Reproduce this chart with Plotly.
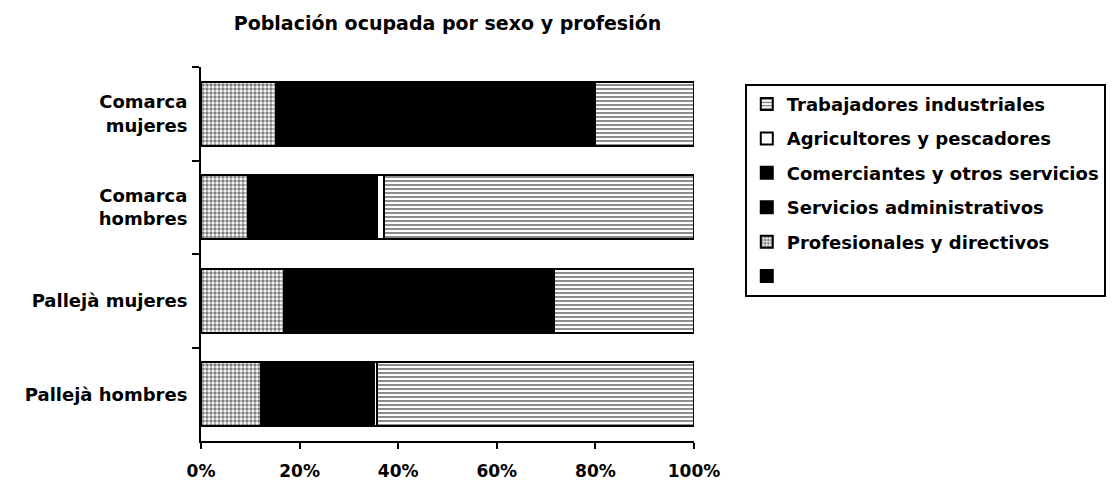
import plotly.graph_objects as go

# ---- data (percent of employed population) ----
categories = ["Comarca<br>mujeres", "Comarca<br>hombres", "Pallejà mujeres", "Pallejà hombres"]
sin_nombre = [0, 0, 0, 0]
profesionales = [15.3, 9.6, 16.9, 12.2]
servicios_adm = [28.0, 9.5, 27.0, 8.0]
comerciantes = [36.4, 16.7, 27.5, 14.8]
agricultores = [0.3, 1.3, 0.2, 0.8]
trabajadores = [20.0, 62.9, 28.4, 64.2]
x_ticks = [0, 20, 40, 60, 80, 100]
x_tick_labels = ["0%", "20%", "40%", "60%", "80%", "100%"]

FONT = "DejaVu Sans"
LINE = dict(color="black", width=2)

# (name, values, marker, legend rank)
series = [
    (" ", sin_nombre, dict(color="black", line=LINE), 6),
    ("Profesionales y directivos", profesionales,
     dict(color="white", line=LINE,
          pattern=dict(shape=".", fgcolor="black", bgcolor="white", size=4, solidity=0.6)), 5),
    ("Servicios administrativos", servicios_adm, dict(color="black", line=LINE), 4),
    ("Comerciantes y otros servicios", comerciantes, dict(color="black", line=LINE), 3),
    ("Agricultores y pescadores", agricultores, dict(color="white", line=LINE), 2),
    ("Trabajadores industriales", trabajadores,
     dict(color="white", line=LINE,
          pattern=dict(shape="-", fgcolor="black", bgcolor="white", size=4, solidity=0.45)), 1),
]

fig = go.Figure()
for name, vals, marker, rank in series:
    fig.add_trace(go.Bar(
        y=categories, x=vals, name=name, orientation="h",
        marker=marker, legendgroup=name, legendrank=rank, hoverinfo="skip",
    ))

fig.update_layout(
    width=1113, height=481,
    barmode="stack", bargap=0.32,
    paper_bgcolor="white", plot_bgcolor="white",
    margin=dict(l=201, r=419, t=67, b=40, autoexpand=False),
    font=dict(family=FONT, size=18, color="black", weight="bold"),
    title=dict(text="Población ocupada por sexo y profesión",
               x=0.5, xref="paper", y=1 - 23 / 481, yref="container",
               xanchor="center", yanchor="middle",
               font=dict(family=FONT, size=19, color="black", weight="bold")),
    showlegend=True,
    legend=dict(x=1.103, y=0.955, xanchor="left", yanchor="top",
                traceorder="grouped", tracegroupgap=8,
                bordercolor="black", borderwidth=2, bgcolor="white",
                font=dict(family=FONT, size=18, color="black", weight="bold")),
    xaxis=dict(range=[0, 100], tickvals=x_ticks, ticktext=x_tick_labels,
               showgrid=False, zeroline=False,
               showline=True, linecolor="black", linewidth=2,
               ticks="outside", ticklen=6, tickwidth=2, tickcolor="black",
               ticklabelstandoff=8,
               tickfont=dict(family=FONT, size=17, color="black", weight="bold")),
    xaxis2=dict(overlaying="x", anchor="y", range=[0, 100], tickvals=x_ticks,
                showticklabels=False, showgrid=False, zeroline=False, showline=False,
                ticks="inside", ticklen=6, tickwidth=2, tickcolor="black"),
    yaxis=dict(type="category", categoryorder="array", categoryarray=categories,
               range=[3.5, -0.5], tickson="boundaries",
               showgrid=False, zeroline=False,
               showline=True, linecolor="black", linewidth=2,
               ticks="outside", ticklen=7, tickwidth=2, tickcolor="black",
               ticklabelstandoff=8,
               tickfont=dict(family=FONT, size=18, color="black", weight="bold")),
    yaxis2=dict(overlaying="y", anchor="x", type="linear", range=[3.5, -0.5],
                tickvals=[-0.5, 0.5, 1.5, 2.5, 3.5],
                showticklabels=False, showgrid=False, zeroline=False, showline=False,
                ticks="inside", ticklen=7, tickwidth=2, tickcolor="black"),
)

fig.write_html("out.html")
